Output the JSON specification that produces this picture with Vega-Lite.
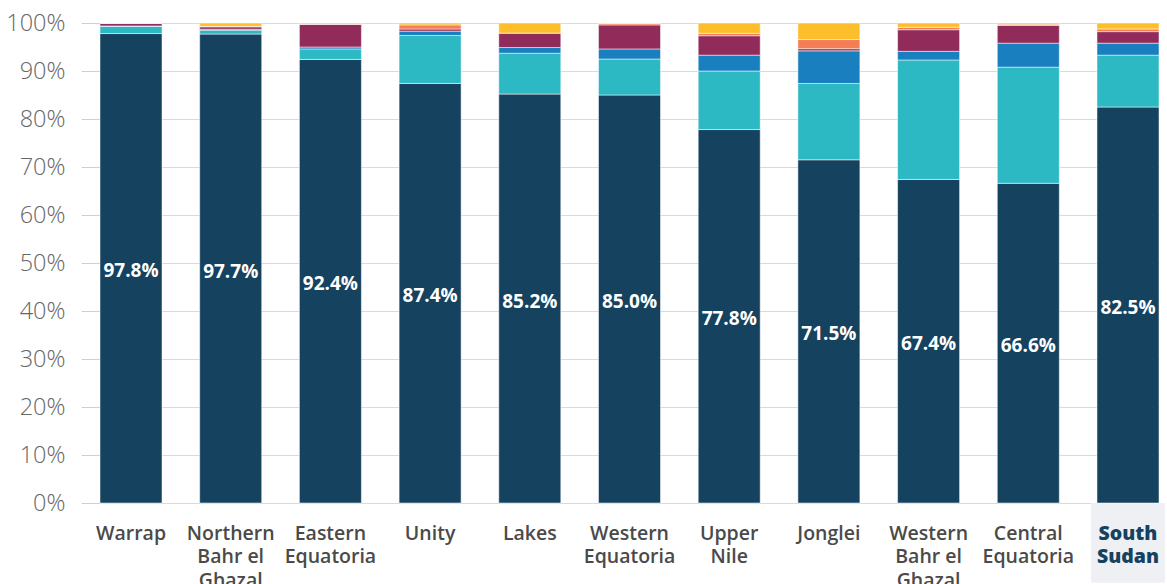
{
  "$schema": "https://vega.github.io/schema/vega-lite/v6.json",
  "width": 1059,
  "height": 480,
  "autosize": "none",
  "padding": {"left": 100, "top": 23, "right": 8, "bottom": 81},
  "config": {"font": "Open Sans", "view": {"stroke": null}},
  "data": {"values": [
    {"region": "Warrap", "group": "Type 1", "value": 0.978},
    {"region": "Warrap", "group": "Type 2", "value": 0.015},
    {"region": "Warrap", "group": "Type 3", "value": 0.001},
    {"region": "Warrap", "group": "Type 4", "value": 0.005},
    {"region": "Warrap", "group": "Type 5", "value": 0.0005},
    {"region": "Warrap", "group": "Type 6", "value": 0.0005},
    {"region": "Northern Bahr el Ghazal", "group": "Type 1", "value": 0.977},
    {"region": "Northern Bahr el Ghazal", "group": "Type 2", "value": 0.008},
    {"region": "Northern Bahr el Ghazal", "group": "Type 3", "value": 0.002},
    {"region": "Northern Bahr el Ghazal", "group": "Type 4", "value": 0.005},
    {"region": "Northern Bahr el Ghazal", "group": "Type 5", "value": 0.001},
    {"region": "Northern Bahr el Ghazal", "group": "Type 6", "value": 0.007},
    {"region": "Eastern Equatoria", "group": "Type 1", "value": 0.924},
    {"region": "Eastern Equatoria", "group": "Type 2", "value": 0.022},
    {"region": "Eastern Equatoria", "group": "Type 3", "value": 0.004},
    {"region": "Eastern Equatoria", "group": "Type 4", "value": 0.047},
    {"region": "Eastern Equatoria", "group": "Type 5", "value": 0.001},
    {"region": "Eastern Equatoria", "group": "Type 6", "value": 0.002},
    {"region": "Unity", "group": "Type 1", "value": 0.874},
    {"region": "Unity", "group": "Type 2", "value": 0.100},
    {"region": "Unity", "group": "Type 3", "value": 0.009},
    {"region": "Unity", "group": "Type 4", "value": 0.0045},
    {"region": "Unity", "group": "Type 5", "value": 0.0085},
    {"region": "Unity", "group": "Type 6", "value": 0.004},
    {"region": "Lakes", "group": "Type 1", "value": 0.852},
    {"region": "Lakes", "group": "Type 2", "value": 0.085},
    {"region": "Lakes", "group": "Type 3", "value": 0.012},
    {"region": "Lakes", "group": "Type 4", "value": 0.030},
    {"region": "Lakes", "group": "Type 5", "value": 0.0},
    {"region": "Lakes", "group": "Type 6", "value": 0.021},
    {"region": "Western Equatoria", "group": "Type 1", "value": 0.850},
    {"region": "Western Equatoria", "group": "Type 2", "value": 0.075},
    {"region": "Western Equatoria", "group": "Type 3", "value": 0.021},
    {"region": "Western Equatoria", "group": "Type 4", "value": 0.050},
    {"region": "Western Equatoria", "group": "Type 5", "value": 0.003},
    {"region": "Western Equatoria", "group": "Type 6", "value": 0.001},
    {"region": "Upper Nile", "group": "Type 1", "value": 0.778},
    {"region": "Upper Nile", "group": "Type 2", "value": 0.122},
    {"region": "Upper Nile", "group": "Type 3", "value": 0.033},
    {"region": "Upper Nile", "group": "Type 4", "value": 0.0405},
    {"region": "Upper Nile", "group": "Type 5", "value": 0.005},
    {"region": "Upper Nile", "group": "Type 6", "value": 0.0215},
    {"region": "Jonglei", "group": "Type 1", "value": 0.715},
    {"region": "Jonglei", "group": "Type 2", "value": 0.159},
    {"region": "Jonglei", "group": "Type 3", "value": 0.068},
    {"region": "Jonglei", "group": "Type 4", "value": 0.0045},
    {"region": "Jonglei", "group": "Type 5", "value": 0.019},
    {"region": "Jonglei", "group": "Type 6", "value": 0.0345},
    {"region": "Western Bahr el Ghazal", "group": "Type 1", "value": 0.674},
    {"region": "Western Bahr el Ghazal", "group": "Type 2", "value": 0.249},
    {"region": "Western Bahr el Ghazal", "group": "Type 3", "value": 0.018},
    {"region": "Western Bahr el Ghazal", "group": "Type 4", "value": 0.045},
    {"region": "Western Bahr el Ghazal", "group": "Type 5", "value": 0.005},
    {"region": "Western Bahr el Ghazal", "group": "Type 6", "value": 0.009},
    {"region": "Central Equatoria", "group": "Type 1", "value": 0.666},
    {"region": "Central Equatoria", "group": "Type 2", "value": 0.242},
    {"region": "Central Equatoria", "group": "Type 3", "value": 0.050},
    {"region": "Central Equatoria", "group": "Type 4", "value": 0.037},
    {"region": "Central Equatoria", "group": "Type 5", "value": 0.0025},
    {"region": "Central Equatoria", "group": "Type 6", "value": 0.0025},
    {"region": "South Sudan", "group": "Type 1", "value": 0.825},
    {"region": "South Sudan", "group": "Type 2", "value": 0.108},
    {"region": "South Sudan", "group": "Type 3", "value": 0.025},
    {"region": "South Sudan", "group": "Type 4", "value": 0.024},
    {"region": "South Sudan", "group": "Type 5", "value": 0.0055},
    {"region": "South Sudan", "group": "Type 6", "value": 0.0125}
  ]},
  "encoding": {
    "x": {
      "field": "region",
      "type": "nominal",
      "sort": null,
      "scale": {
        "domain": ["Warrap", "Northern Bahr el Ghazal", "Eastern Equatoria", "Unity", "Lakes", "Western Equatoria", "Upper Nile", "Jonglei", "Western Bahr el Ghazal", "Central Equatoria", "South Sudan"],
        "paddingInner": 0.378,
        "paddingOuter": 0
      },
      "axis": {
        "title": null,
        "domain": false,
        "ticks": false,
        "labelAngle": 0,
        "labelFontSize": 19.5,
        "labelFontWeight": {"condition": {"test": "datum.value === 'South Sudan'", "value": 800}, "value": 600},
        "labelColor": {"condition": {"test": "datum.value === 'South Sudan'", "value": "#15425f"}, "value": "#4a4a4a"},
        "labelPadding": 21,
        "labelLineHeight": 23.5,
        "labelBaseline": "top",
        "labelLimit": 200,
        "zindex": 1,
        "labelExpr": "datum.value == 'Northern Bahr el Ghazal' ? ['Northern','Bahr el','Ghazal'] : datum.value == 'Western Bahr el Ghazal' ? ['Western','Bahr el','Ghazal'] : datum.value == 'Eastern Equatoria' ? ['Eastern','Equatoria'] : datum.value == 'Western Equatoria' ? ['Western','Equatoria'] : datum.value == 'Central Equatoria' ? ['Central','Equatoria'] : datum.value == 'Upper Nile' ? ['Upper','Nile'] : datum.value == 'South Sudan' ? ['South','Sudan'] : datum.label"
      }
    }
  },
  "layer": [
    {
      "data": {"values": [{"region": "South Sudan"}]},
      "mark": {"type": "bar", "width": 74, "color": "#eef0f3"},
      "encoding": {
        "y": {"datum": 0, "type": "quantitative", "title": null},
        "y2": {"datum": -0.166}
      }
    },
    {
      "mark": {"type": "bar", "stroke": "white", "strokeWidth": 1, "strokeOpacity": 0.5},
      "encoding": {
        "y": {
          "field": "value",
          "type": "quantitative",
          "stack": "zero",
          "scale": {"domain": [0, 1], "nice": false},
          "axis": {
            "title": null,
            "format": ".0%",
            "values": [0, 0.1, 0.2, 0.3, 0.4, 0.5, 0.6, 0.7, 0.8, 0.9, 1],
            "grid": true,
            "gridColor": "#dadada",
            "domain": false,
            "ticks": true,
            "tickSize": 19,
            "tickColor": "#d0d0d0",
            "labelFontSize": 23.5,
            "labelFontWeight": 300,
            "labelColor": "#666666",
            "labelPadding": 16,
            "zindex": 0
          }
        },
        "color": {
          "field": "group",
          "type": "nominal",
          "scale": {
            "domain": ["Type 1", "Type 2", "Type 3", "Type 4", "Type 5", "Type 6"],
            "range": ["#15425f", "#2db9c3", "#1a7fbf", "#902b5a", "#f47d55", "#fdbe2b"]
          },
          "legend": null
        },
        "order": {"field": "group", "sort": "ascending"}
      }
    },
    {
      "transform": [{"filter": "datum.group === 'Type 1'"}],
      "mark": {"type": "text", "color": "white", "fontSize": 19, "fontWeight": "bold", "baseline": "middle", "dy": 3},
      "encoding": {
        "y": {"field": "value", "type": "quantitative", "stack": "zero", "bandPosition": 0.5},
        "text": {"field": "value", "type": "quantitative", "format": ".1%"}
      }
    }
  ]
}
